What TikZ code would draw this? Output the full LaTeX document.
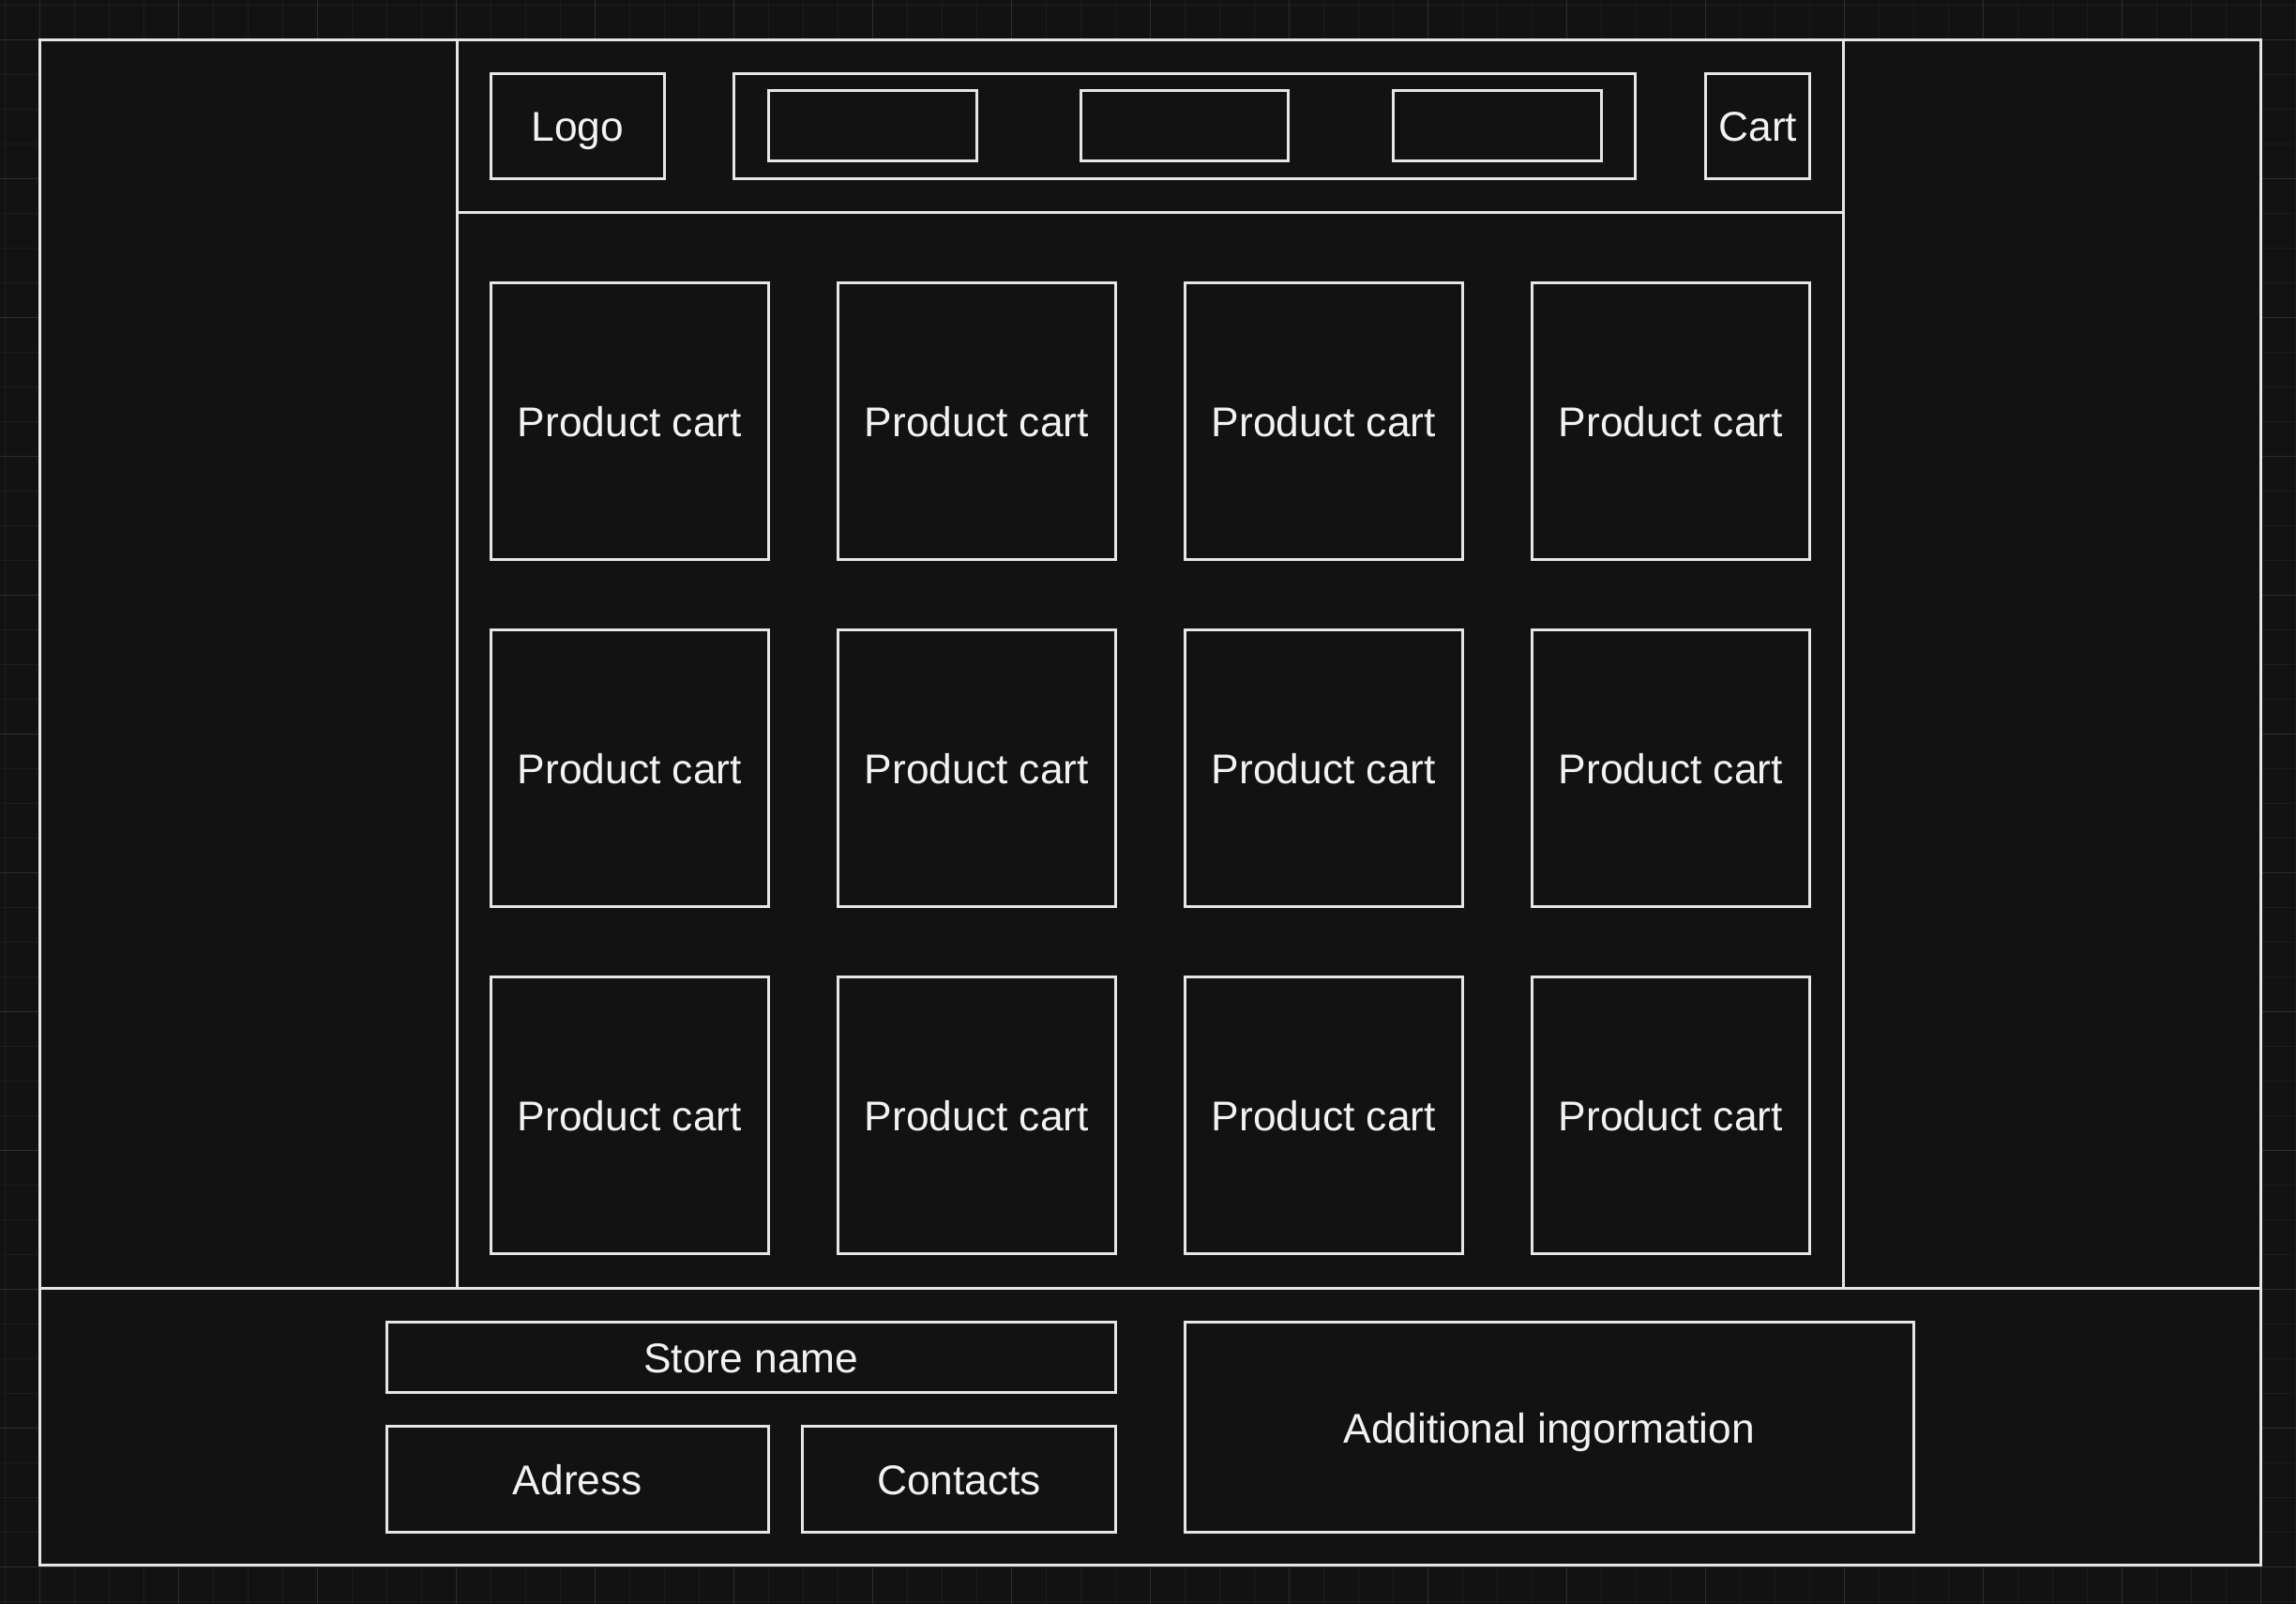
\documentclass[tikz,border=0pt]{standalone}
\usepackage{fontspec}
\setmainfont{Liberation Sans}
\usetikzlibrary{positioning}
\definecolor{Canvas}{HTML}{121212}
\definecolor{GridMinor}{HTML}{1D1D1D}
\definecolor{GridMajor}{HTML}{2E2E2E}
\definecolor{Wire}{HTML}{E6E6E6}
\definecolor{Ink}{HTML}{F2F2F2}

\begin{document}
\begin{tikzpicture}[x=1pt,y=-1pt,
    wire/.style={draw=Wire,line width=1.9pt},
    box/.style={wire,fill=Canvas,inner sep=0pt,text=Ink,
      font=\fontsize{28.4}{34}\selectfont,text height=21.3pt,text depth=0pt},
    card/.style={box,minimum width=190pt,minimum height=189pt},
    tab/.style={box,minimum width=142pt,minimum height=48pt}]
  \fill[Canvas] (0,0) rectangle (1568,1095);
  \useasboundingbox (0,0) rectangle (1568,1095);
  % background grid
  \foreach \k in {-1,...,65}
    \draw[GridMinor,line width=0.8pt] (27+\k*23.7,0) -- (27+\k*23.7,1095);
  \foreach \k in {-1,...,45}
    \draw[GridMinor,line width=0.8pt] (0,27+\k*23.7) -- (1568,27+\k*23.7);
  \foreach \k in {0,...,16}
    \draw[GridMajor,line width=0.5pt] (27+\k*94.8,0) -- (27+\k*94.8,1095);
  \foreach \k in {0,...,11}
    \draw[GridMajor,line width=0.5pt] (0,27+\k*94.8) -- (1568,27+\k*94.8);

  % page layout
  \draw[wire,fill=Canvas] (27,27) rectangle (1544,1069);
  \draw[wire] (312,27) -- (312,880) (1259,27) -- (1259,880);
  \draw[wire] (312,145) -- (1259,145);
  \draw[wire] (27,880) -- (1544,880);

  % header
  \node[box,minimum width=119pt,minimum height=72pt] (logo) at (394.5,86) {Logo};
  \node[box,minimum width=616pt,minimum height=72pt] (nav) at (809,86) {};
  \node[tab] (tab1) at (596,86) {};
  \node[tab] (tab2) at (809,86) {};
  \node[tab] (tab3) at (1022.5,86) {};
  \node[box,minimum width=71pt,minimum height=72pt] (cart) at (1200.5,86) {Cart};

  % product grid
  \foreach \row in {0,1,2}
    \foreach \col in {0,1,2,3}
      \node[card] (card-\row-\col) at (430+\col*237,287.5+\row*237) {Product cart};

  % footer
  \node[box,minimum width=498pt,minimum height=48pt] (store) at (513,927) {Store name};
  \node[box,minimum width=261pt,minimum height=72pt] (address) at (394.5,1010) {Adress};
  \node[box,minimum width=214pt,minimum height=72pt] (contacts) at (655,1010) {Contacts};
  \node[box,minimum width=498pt,minimum height=143pt] (info) at (1058,974.5) {Additional ingormation};
\end{tikzpicture}
\end{document}
